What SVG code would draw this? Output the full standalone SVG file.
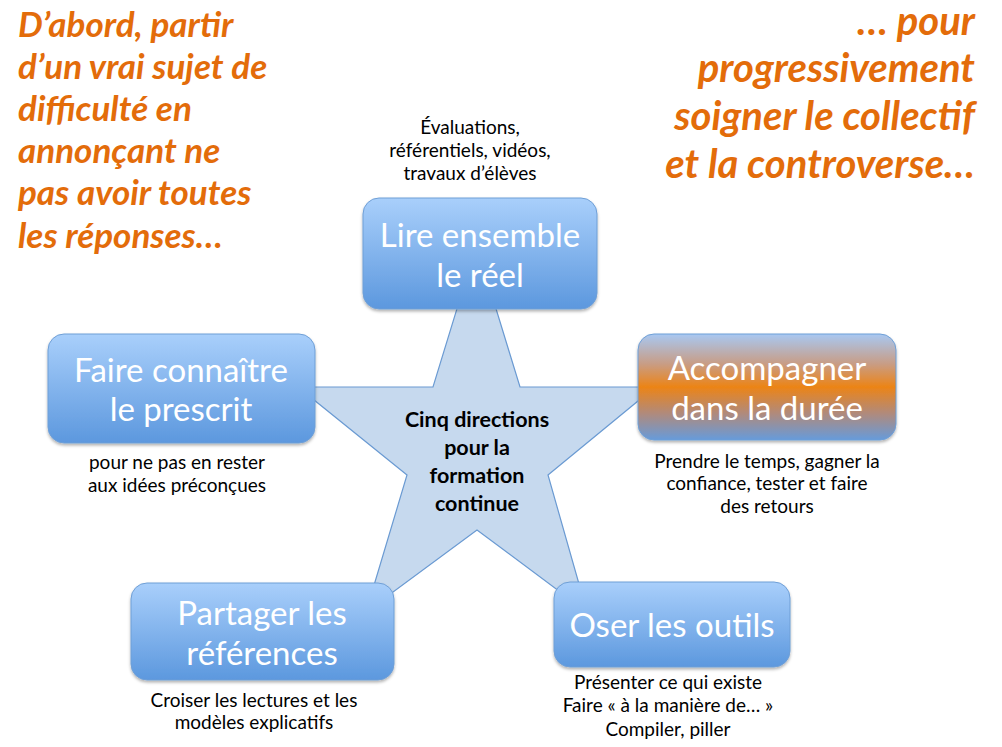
<svg xmlns="http://www.w3.org/2000/svg" width="1002" height="747" viewBox="0 0 1002 747">
<style>
.box{stroke:#6f9fd6;stroke-width:1}
.bt{font-family:Lato,"Open Sans",sans-serif;font-size:33px;fill:#ffffff;text-anchor:middle}
.lb{font-family:Lato,"Open Sans",sans-serif;font-size:19px;fill:#000000;text-anchor:middle}
.st{font-family:Lato,"Open Sans",sans-serif;font-size:21.5px;font-weight:bold;fill:#000000;text-anchor:middle}
.or{font-family:Lato,"Open Sans",sans-serif;font-weight:bold;font-style:italic;fill:#e36c0a}
</style>
<defs>
<linearGradient id="gb" x1="0" y1="0" x2="0" y2="1">
<stop offset="0" stop-color="#a9cffb"/>
<stop offset="1" stop-color="#5c98de"/>
</linearGradient>
<linearGradient id="go" x1="0" y1="0" x2="0" y2="1">
<stop offset="0" stop-color="#a8c8f2"/>
<stop offset="0.28" stop-color="#c89d86"/>
<stop offset="0.5" stop-color="#ec8417"/>
<stop offset="0.75" stop-color="#b08a7c"/>
<stop offset="1" stop-color="#669bdb"/>
</linearGradient>
<filter id="sh" x="-5%" y="-5%" width="110%" height="120%">
<feDropShadow dx="0" dy="2" stdDeviation="1.5" flood-color="#000" flood-opacity="0.3"/>
</filter>
</defs>
<rect width="1002" height="747" fill="#ffffff"/>

<g id="star">
<polygon points="476.5,245 520,387 655,387 548,475 587,612 477,530 366,612 407,475 298,387 433,387" fill="#c6d9ee" stroke="#6a9ad2" stroke-width="1.2"/>
<text class="st" x="477" y="427">Cinq directions</text>
<text class="st" x="477" y="455">pour la</text>
<text class="st" x="477" y="483">formation</text>
<text class="st" x="477" y="511">continue</text>
</g>

<g id="connectors"></g>

<g id="node-lire">
<rect class="box" x="363" y="198" width="234" height="111" rx="16" fill="url(#gb)" filter="url(#sh)"/>
<text class="bt" x="480" y="247">Lire ensemble</text>
<text class="bt" x="480" y="287">le réel</text>
<text class="lb" x="470" y="134">Évaluations,</text>
<text class="lb" x="470" y="157">référentiels, vidéos,</text>
<text class="lb" x="470" y="180">travaux d’élèves</text>
</g>

<g id="node-faire">
<rect class="box" x="48" y="334" width="267" height="109" rx="16" fill="url(#gb)" filter="url(#sh)"/>
<text class="bt" x="181" y="382">Faire connaître</text>
<text class="bt" x="181" y="421">le prescrit</text>
<text class="lb" x="177" y="469">pour ne pas en rester</text>
<text class="lb" x="177" y="492">aux idées préconçues</text>
</g>

<g id="node-accompagner">
<rect class="box" x="638" y="334" width="258" height="106" rx="16" fill="url(#go)" filter="url(#sh)"/>
<text class="bt" x="767" y="380">Accompagner</text>
<text class="bt" x="767" y="420">dans la durée</text>
<text class="lb" x="767" y="468">Prendre le temps, gagner la</text>
<text class="lb" x="767" y="490">confiance, tester et faire</text>
<text class="lb" x="767" y="513">des retours</text>
</g>

<g id="node-partager">
<rect class="box" x="131" y="583" width="263" height="97" rx="16" fill="url(#gb)" filter="url(#sh)"/>
<text class="bt" x="262" y="625">Partager les</text>
<text class="bt" x="262" y="665">références</text>
<text class="lb" x="254" y="707">Croiser les lectures et les</text>
<text class="lb" x="254" y="729">modèles explicatifs</text>
</g>

<g id="node-oser">
<rect class="box" x="554" y="582" width="236" height="85" rx="16" fill="url(#gb)" filter="url(#sh)"/>
<text class="bt" x="672" y="637">Oser les outils</text>
<text class="lb" x="668" y="689">Présenter ce qui existe</text>
<text class="lb" x="668" y="712">Faire « à la manière de… »</text>
<text class="lb" x="668" y="736">Compiler, piller</text>
</g>

<g id="text-left">
<text class="or" font-size="35" x="18" y="37">D’abord, partir</text>
<text class="or" font-size="35" x="18" y="79">d’un vrai sujet de</text>
<text class="or" font-size="35" x="18" y="121">difficulté en</text>
<text class="or" font-size="35" x="18" y="163">annonçant ne</text>
<text class="or" font-size="35" x="18" y="205">pas avoir toutes</text>
<text class="or" font-size="35" x="18" y="248">les réponses…</text>
</g>

<g id="text-right">
<text class="or" font-size="40" x="975" y="35" text-anchor="end">… pour</text>
<text class="or" font-size="40" x="975" y="82" text-anchor="end">progressivement</text>
<text class="or" font-size="40" x="975" y="130" text-anchor="end">soigner le collectif</text>
<text class="or" font-size="40" x="975" y="178" text-anchor="end">et la controverse…</text>
</g>
</svg>
